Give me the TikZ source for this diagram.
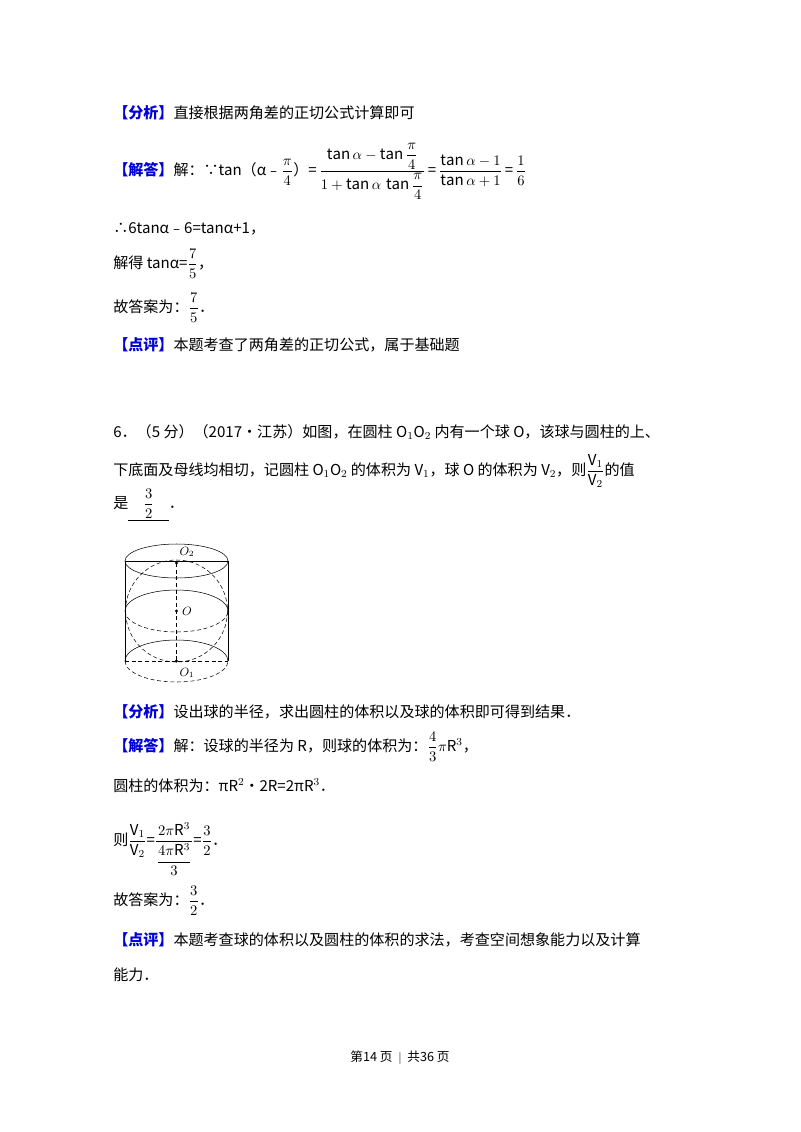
\documentclass[tikz,border=0pt]{standalone}
\usepackage{amsmath}
\usepackage{fontspec}
\setmainfont{Noto Sans CJK SC}
\begin{document}
\begin{tikzpicture}[x=0.75pt,y=-0.75pt,
  t/.style={anchor=base west,inner sep=0pt,font=\fontsize{11.3}{13}\selectfont},
  d/.style={dashed,dash pattern=on 3pt off 2pt}]
\useasboundingbox[fill=white] (0,0) rectangle (800,1132);
\node[t] (l1) at (113,118) {{\color{blue!85!black}\bfseries【分析】}直接根据两角差的正切公式计算即可};
\node[t] (l2) at (113,175) {{\color{blue!85!black}\bfseries【解答】}解：∵tan（α﹣$\dfrac{\pi}{4}$）=\,$\dfrac{\tan\alpha-\tan\dfrac{\pi}{4}}{1+\tan\alpha\,\tan\dfrac{\pi}{4}}$\,=\,$\dfrac{\tan\alpha-1}{\tan\alpha+1}$\,=\,$\dfrac{1}{6}$};
\node[t] (l3) at (113,233) {∴6tanα﹣6=tanα+1，};
\node[t] (l4) at (113,268) {解得 tanα=$\dfrac{7}{5}$，};
\node[t] (l5) at (113,312) {故答案为：$\dfrac{7}{5}$．};
\node[t] (l6) at (113,350) {{\color{blue!85!black}\bfseries【点评】}本题考查了两角差的正切公式，属于基础题};
\node[t] (l7) at (113,437) {6．（5 分）（2017•江苏）如图，在圆柱 O$_1$O$_2$ 内有一个球 O，该球与圆柱的上、};
\node[t] (l8) at (113,475) {下底面及母线均相切，记圆柱 O$_1$O$_2$ 的体积为 V$_1$，球 O 的体积为 V$_2$，则$\dfrac{\mathrm{V}_1}{\mathrm{V}_2}$的值};
\node[t] (l9) at (113,508) {是\underline{\hspace{1em}$\dfrac{3}{2}$\hspace{1em}}．};
% cylinder
\draw (125,561) -- (125,661) (228,561) -- (228,661);
\draw (176.5,561) ellipse [x radius=51.5, y radius=17];
\draw (125,561) -- (228,561);
\draw (125,661) arc[start angle=180,end angle=360,x radius=51.5,y radius=21];
\draw[d] (125,661) arc[start angle=180,end angle=0,x radius=51.5,y radius=21];
\draw[d] (125,661) -- (228,661);
\draw (125,611) arc[start angle=180,end angle=360,x radius=51.5,y radius=21];
\draw[d] (125,611) arc[start angle=180,end angle=0,x radius=51.5,y radius=21];
\draw[d] (176.5,611) circle[radius=51];
\draw[d] (176.5,563) -- (176.5,661);
\fill (176.5,563) circle[radius=1.6] (176.5,611) circle[radius=1.6] (176.5,661) circle[radius=1.6];
\node[font=\small] (o2) at (187,552) {$O_2$};
\node[font=\small] (o) at (187,611) {$O$};
\node[font=\small] (o1) at (187,673) {$O_1$};
\node[t] (m1) at (113,717) {{\color{blue!85!black}\bfseries【分析】}设出球的半径，求出圆柱的体积以及球的体积即可得到结果．};
\node[t] (m2) at (113,751) {{\color{blue!85!black}\bfseries【解答】}解：设球的半径为 R，则球的体积为：$\dfrac{4}{3}\pi$R$^3$，};
\node[t] (m3) at (113,791) {圆柱的体积为：πR$^2$•2R=2πR$^3$．};
\node[t] (m4) at (113,845) {则$\dfrac{\mathrm{V}_1}{\mathrm{V}_2}$=$\dfrac{2\pi\mathrm{R}^3}{\dfrac{4\pi\mathrm{R}^3}{3}}$=$\dfrac{3}{2}$．};
\node[t] (m5) at (113,905) {故答案为：$\dfrac{3}{2}$．};
\node[t] (m6) at (113,945) {{\color{blue!85!black}\bfseries【点评】}本题考查球的体积以及圆柱的体积的求法，考查空间想象能力以及计算};
\node[t] (m7) at (113,980) {能力．};
\node[anchor=base,font=\fontsize{9.5}{11}\selectfont] (f) at (400,1061) {第14 页 \ $|$ \ 共36 页};
\end{tikzpicture}
\end{document}
